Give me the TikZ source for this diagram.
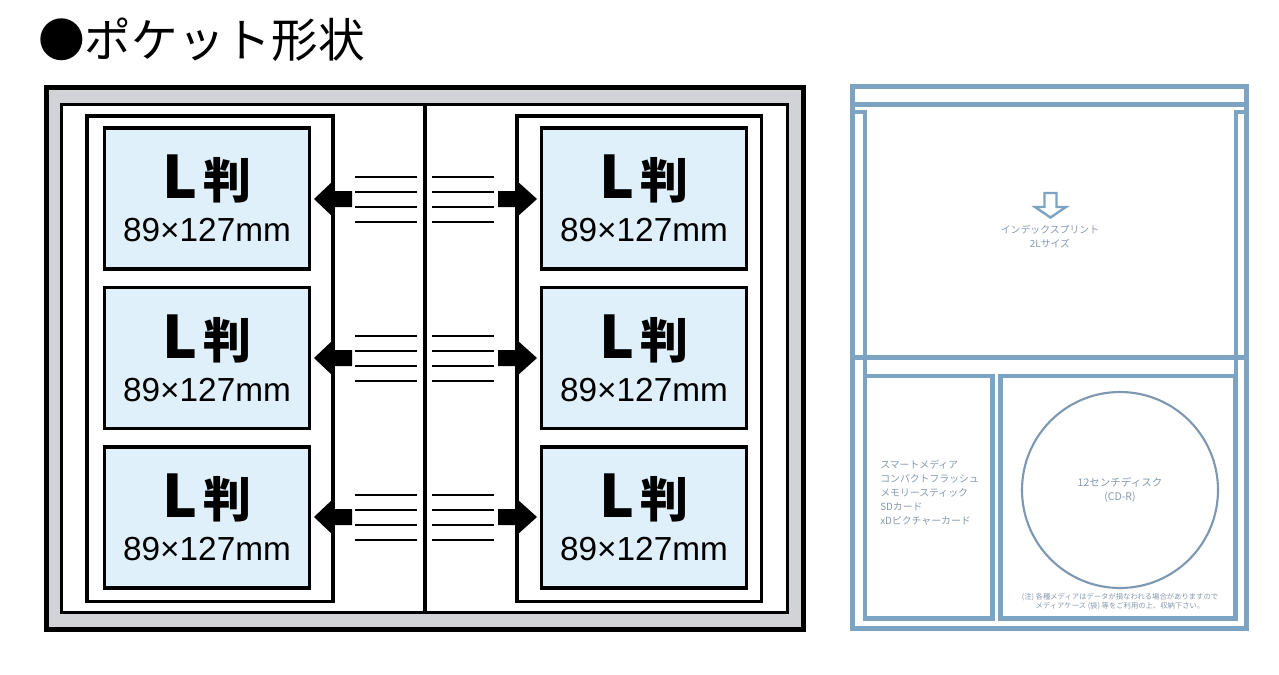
\documentclass[tikz,border=0pt]{standalone}
\usepackage{fontspec}
\setmainfont{Liberation Sans}
\newfontfamily\jpfont{Noto Sans CJK JP}
\usetikzlibrary{positioning}

\definecolor{albumgray}{HTML}{D2D3D7}
\definecolor{photofill}{HTML}{DFF0FA}
\definecolor{panelblue}{HTML}{7CA3C2}
\definecolor{discline}{HTML}{7E98B2}
\definecolor{labelgray}{HTML}{8598AD}

% size label used in every photo pocket
\newcommand{\lsize}{{\bfseries{\fontsize{44}{44}\selectfont L}\,{\fontsize{36}{36}\selectfont 判}}\\{\rmfamily\fontsize{25}{25}\selectfont 89×127mm}}

\begin{document}
\begin{tikzpicture}[x=0.75pt, y=-0.75pt,
  album/.style={line width=3.75pt, fill=albumgray},
  sheet/.style={line width=2.6pt, fill=white},
  page/.style={line width=2.6pt},
  photo/.style={draw, line width=2.6pt, fill=photofill, minimum width=153.75pt, minimum height=105.75pt, inner sep=0pt, align=center, font=\jpfont\fontsize{25}{32}\selectfont},
  stripe/.style={line width=1.5pt},
  outline/.style={draw=panelblue, line width=3.75pt},
  fold/.style={draw=panelblue, line width=2.4pt},
  pocket/.style={draw=panelblue, line width=3.4pt, inner sep=0pt},
  paneltext/.style={text=labelgray, inner sep=0pt, align=center, font=\jpfont\fontsize{7.4}{10.5}\selectfont}
]
\useasboundingbox (0,0) rectangle (1279,675);

\node[anchor=west, inner sep=0pt, font=\jpfont\fontsize{35}{35}\selectfont] (title) at (38,40) {●ポケット形状};

% album, open
\draw[album] (46,87.5) rectangle (803,629);
\draw[sheet] (61.3,104.3) rectangle (787.5,612.7);
\draw[page] (425,104.3) -- (425,612.7);
\draw[page] (87,116) rectangle (333,601.7);
\draw[page] (517,116) rectangle (761.5,601.7);

\node[photo] (pl1) at (207,198.5) {\lsize};
\node[photo] (pl2) at (207,358) {\lsize};
\node[photo] (pl3) at (207,517.5) {\lsize};
\node[photo] (pr1) at (644,198.5) {\lsize};
\node[photo] (pr2) at (644,358) {\lsize};
\node[photo] (pr3) at (644,517.5) {\lsize};

% insert arrows and guide lines
\foreach \c in {199,358,517}{
  \fill (352,\c-8) -- (333,\c-8) -- (333,\c-18) -- (314,\c) -- (333,\c+18) -- (333,\c+8) -- (352,\c+8) -- cycle;
  \fill (498,\c-8) -- (517,\c-8) -- (517,\c-18) -- (537,\c) -- (517,\c+18) -- (517,\c+8) -- (498,\c+8) -- cycle;
  \foreach \d in {-22.5,-7.5,7.5,22.5}{
    \draw[stripe] (355,\c+\d) -- (417,\c+\d);
    \draw[stripe] (432,\c+\d) -- (494,\c+\d);
  }
}

% media pocket sheet
\draw[outline] (852.5,86.5) rectangle (1246.5,628);
\draw[outline] (852.5,104.3) -- (1246.5,104.3);
\draw[outline] (852.5,357.5) -- (1246.5,357.5);
\draw[fold] (852.5,112) -- (865,112) -- (865,618.5);
\draw[fold] (1246.5,112) -- (1236,112) -- (1236,618.5);
\node[pocket, minimum width=95.6pt, minimum height=181.9pt] (media) at (928.75,497.25) {};
\node[pocket, minimum width=176.25pt, minimum height=181.9pt] (disc) at (1118,497.25) {};

\draw[panelblue, line width=1.8pt] (1044.5,193) -- (1056.5,193) -- (1056.5,207) -- (1066,207) -- (1050.5,217.5) -- (1035,207) -- (1044.5,207) -- cycle;
\node[paneltext] (index) at (1050,236.5) {インデックスプリント\\2Lサイズ};

\node[paneltext, align=left, anchor=west] (cards) at (880,493) {スマートメディア\\コンパクトフラッシュ\\メモリースティック\\SDカード\\xDピクチャーカード};

\node[circle, draw=discline, line width=1.6pt, minimum size=147pt, paneltext, font=\jpfont\fontsize{7.9}{10.5}\selectfont] (cd) at (1120,490) {12センチディスク\\(CD-R)};
\node[paneltext, font=\jpfont\fontsize{5.5}{6.8}\selectfont, below=3pt of cd] (note) {(注) 各種メディアはデータが損なわれる場合がありますので\\メディアケース (袋) 等をご利用の上、収納下さい。};
\end{tikzpicture}
\end{document}
